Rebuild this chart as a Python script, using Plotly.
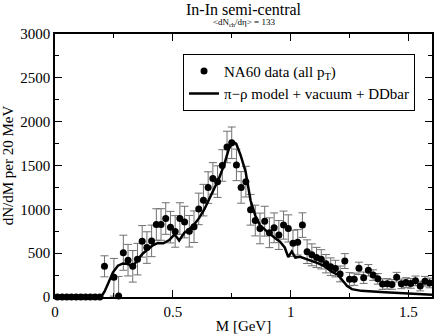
import plotly.graph_objects as go

# NA60 data points (M in GeV, dN/dM per 20 MeV, error)
data_m = [0.01, 0.03, 0.05, 0.07, 0.09, 0.11, 0.13, 0.15, 0.17, 0.19,
          0.21, 0.25, 0.27, 0.29, 0.31, 0.33, 0.35, 0.37, 0.39, 0.41,
          0.43, 0.45, 0.47, 0.49, 0.51, 0.53, 0.55, 0.57, 0.59, 0.61,
          0.63, 0.65, 0.67, 0.69, 0.71, 0.73, 0.75, 0.77, 0.79, 0.81,
          0.83, 0.85, 0.87, 0.89, 0.91, 0.93, 0.95, 0.97, 0.99, 1.01,
          1.03, 1.05, 1.07, 1.09, 1.11, 1.13, 1.15, 1.17, 1.19, 1.21,
          1.23, 1.25, 1.27, 1.29, 1.31, 1.33, 1.35, 1.37, 1.39, 1.41,
          1.43, 1.45, 1.47, 1.49, 1.51, 1.53, 1.55, 1.57, 1.59]
data_y = [0, 0, 0, 0, 0, 0, 0, 0, 0, 0,
          350, 225, 10, 505, 420, 350, 432, 635, 564, 640,
          827, 827, 895, 797, 748, 895, 855, 750, 802, 1005,
          1105, 1248, 1353, 1316, 1500, 1711, 1759, 1507, 1250, 1316,
          995, 872, 782, 865, 733, 789, 707, 820, 782, 612,
          624, 820, 517, 481, 451, 430, 380, 346, 324, 263,
          410, 203, 203, 327, 220, 305, 250, 207, 147, 150,
          143, 226, 150, 165, 155, 184, 125, 180, 160]
data_err = [0, 0, 0, 0, 0, 0, 0, 0, 0, 0,
            120, 215, 225, 200, 180, 180, 180, 180, 180, 180,
            180, 180, 180, 180, 180, 180, 180, 180, 180, 180,
            180, 180, 180, 180, 180, 180, 180, 180, 180, 175,
            175, 175, 175, 170, 170, 170, 165, 160, 155, 150,
            145, 140, 135, 125, 115, 110, 105, 100, 95, 90,
            85, 75, 70, 70, 65, 65, 60, 60, 60, 60,
            55, 55, 55, 55, 55, 55, 55, 55, 55]

# pi-rho model + vacuum + DDbar
model_m = [0.0, 0.19, 0.2, 0.21, 0.225, 0.246, 0.267, 0.288, 0.309, 0.324,
           0.338, 0.352, 0.373, 0.394, 0.415, 0.436, 0.46, 0.485, 0.506, 0.515,
           0.527, 0.549, 0.57, 0.591, 0.612, 0.633, 0.654, 0.675, 0.696, 0.717,
           0.738, 0.755, 0.769, 0.788, 0.809, 0.83, 0.85, 0.87, 0.893, 0.914,
           0.935, 0.955, 0.975, 0.99, 1.005, 1.02, 1.04, 1.062, 1.09, 1.118,
           1.146, 1.174, 1.2, 1.22, 1.24, 1.26, 1.3, 1.4, 1.5, 1.6]
model_y = [0, 0, 20, 60, 150, 282, 357, 383, 376, 357,
           376, 432, 496, 545, 590, 615, 612, 650, 710, 690,
           645, 733, 770, 827, 902, 996, 1109, 1241, 1353, 1503,
           1692, 1767, 1748, 1616, 1429, 1100, 930, 820, 760, 715,
           670, 630, 565, 455, 520, 450, 459, 440, 414, 383,
           346, 290, 255, 190, 125, 90, 70, 55, 40, 25]

serif = "Liberation Serif, Times New Roman, DejaVu Serif, serif"

fig = go.Figure()
fig.add_trace(
    go.Scatter(
        x=data_m, y=data_y, mode="markers",
        name="NA60 data (all p<sub>T</sub>)",
        marker=dict(color="black", size=7),
        error_y=dict(type="data", array=data_err, color="#707070",
                     thickness=1, width=4),
        cliponaxis=False,
    )
)
fig.add_trace(
    go.Scatter(
        x=model_m, y=model_y, mode="lines",
        name="π−ρ model + vacuum + DDbar",
        line=dict(color="black", width=2.5),
    )
)

axis_common = dict(
    showline=True, linecolor="black", linewidth=1.5, mirror="allticks",
    ticks="inside", ticklen=7, tickcolor="black", tickwidth=1,
    showgrid=False, zeroline=False,
    tickfont=dict(family=serif, size=15, color="black"),
)
fig.update_xaxes(
    range=[0, 1.6], tickvals=[0, 0.5, 1, 1.5], ticktext=["0", "0.5", "1", "1.5"],
    minor=dict(dtick=0.25, tick0=0, ticks="inside", ticklen=4, tickcolor="black"),
    title=dict(text="M [GeV]", font=dict(family=serif, size=15, color="black"),
               standoff=2),
    **axis_common,
)
fig.update_yaxes(
    range=[0, 3000], dtick=500,
    minor=dict(dtick=250, tick0=0, ticks="inside", ticklen=4, tickcolor="black"),
    title=dict(text="dN/dM per 20 MeV", font=dict(family=serif, size=15, color="black"),
               standoff=6),
    **axis_common,
)

fig.add_annotation(
    text="In-In semi-central", xref="paper", yref="paper", x=0.5, y=1,
    yshift=25, showarrow=False, yanchor="middle",
    font=dict(family=serif, size=16, color="black"),
)
fig.add_annotation(
    text="&lt;dN<sub>ch</sub>/dη&gt; = 133", xref="paper", yref="paper", x=0.5, y=1,
    yshift=12, showarrow=False, yanchor="middle",
    font=dict(family=serif, size=9, color="black"),
)

fig.update_layout(
    width=436, height=334,
    margin=dict(l=55, r=2, t=34, b=34),
    paper_bgcolor="white", plot_bgcolor="white",
    showlegend=True,
    legend=dict(
        x=0.955, y=0.925, xanchor="right", yanchor="top",
        bgcolor="white", bordercolor="black", borderwidth=1,
        font=dict(family=serif, size=15, color="black"),
        itemwidth=30, tracegroupgap=0,
    ),
)

fig.write_html(
    "out.html",
    config={"displayModeBar": False},
    post_script="document.body.style.margin='0';",
)
